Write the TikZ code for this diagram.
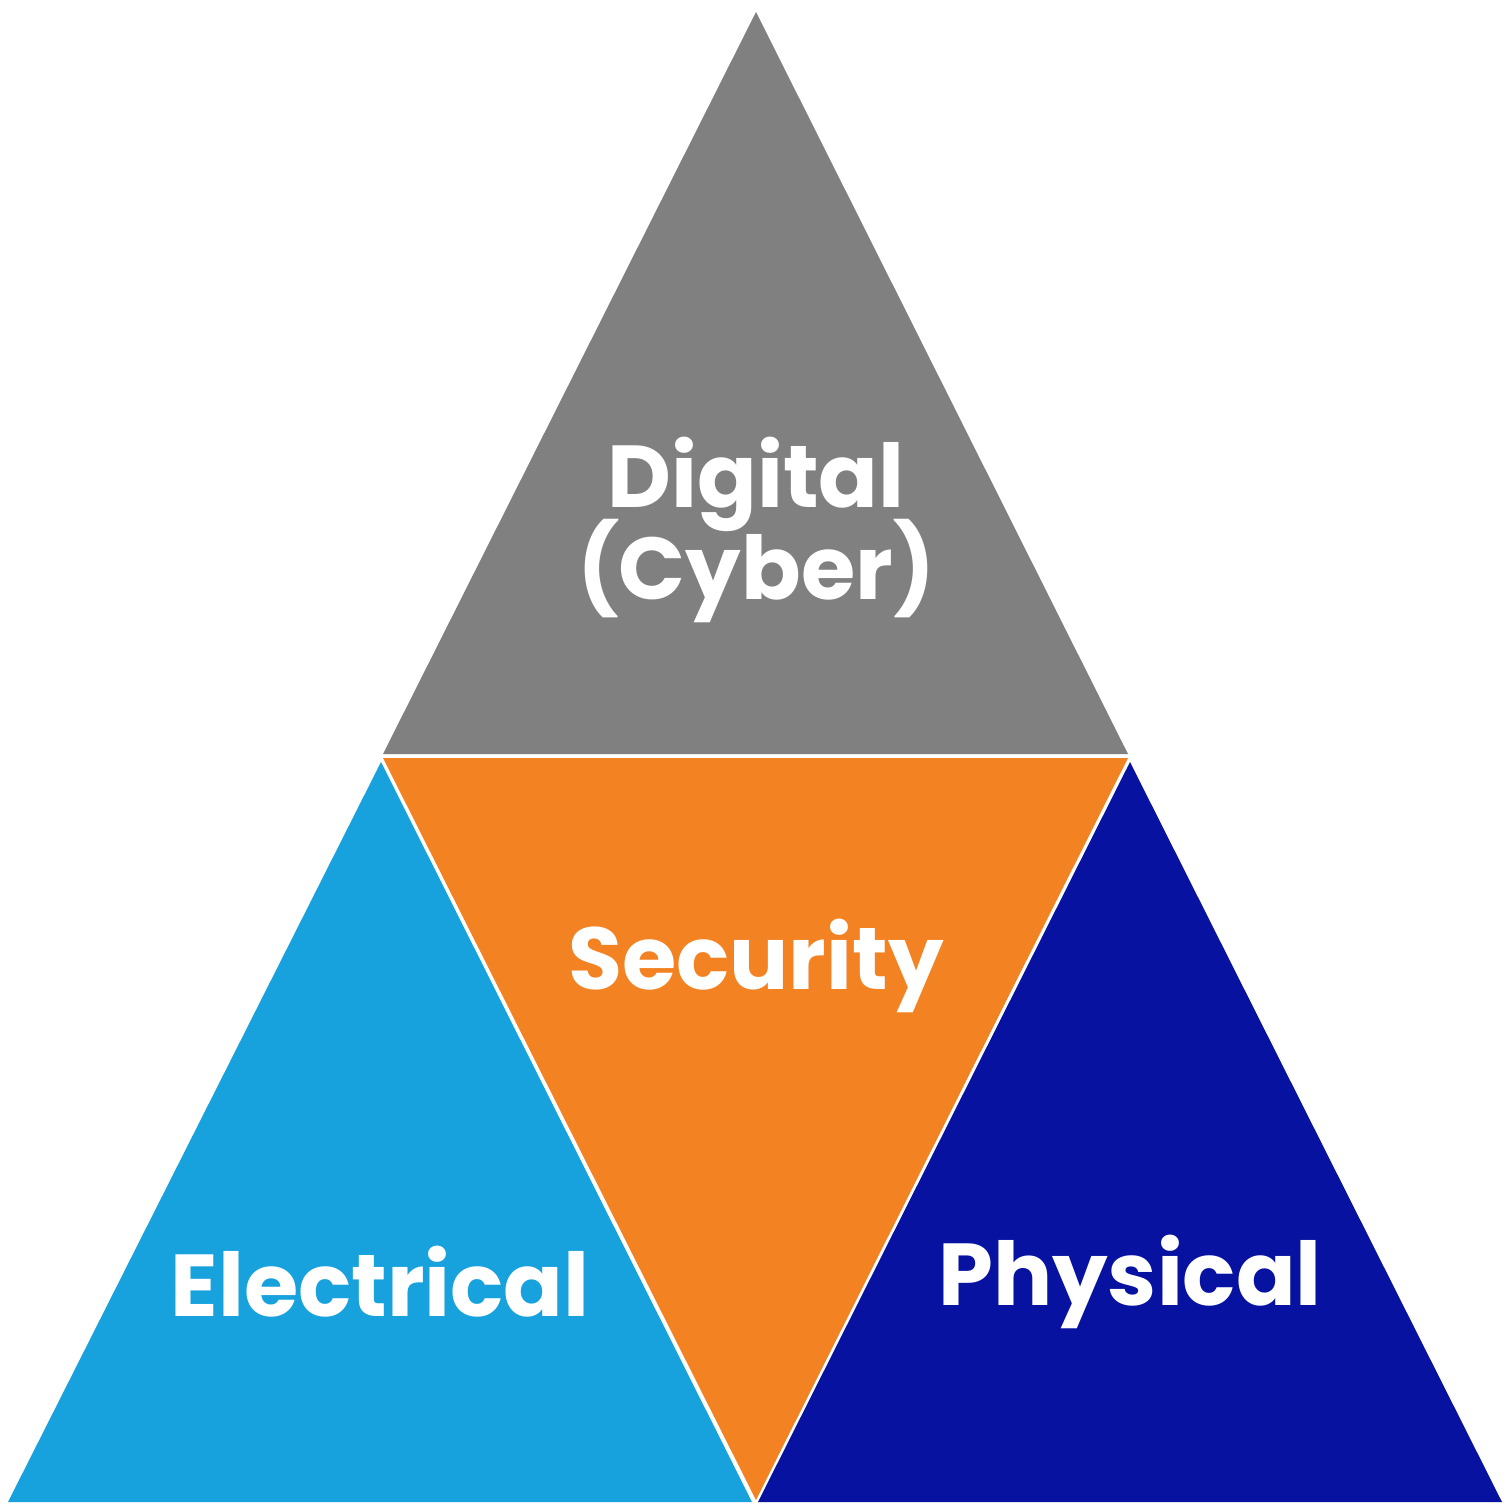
\documentclass[tikz,border=0pt]{standalone}
\usepackage{fontspec}
\setmainfont{Poppins}
\usetikzlibrary{positioning}
\definecolor{digitalgray}{HTML}{808080}
\definecolor{securityorange}{HTML}{F28222}
\definecolor{electricblue}{HTML}{17A2DD}
\definecolor{physicalnavy}{HTML}{0712A0}
\tikzset{
  label text/.style={text=white, font=\fontsize{25}{30}\selectfont\bfseries, align=center}
}
\begin{document}
\begin{tikzpicture}[x=0.01cm, y=-0.01cm]
        \useasboundingbox (0,0) rectangle (1512,1512);
        \fill [digitalgray] (756,12) -- (1128,754) -- (383,754) -- cycle;
        \fill [securityorange] (383,758) -- (1128,758) -- (756,1500) -- cycle;
        \fill [electricblue] (381,762) -- (752,1502) -- (8,1502) -- cycle;
        \fill [physicalnavy] (1130,762) -- (1502,1502) -- (758,1502) -- cycle;

        \node [label text] (digital) at (756,530) {Digital\\[-4pt](Cyber)};
        \node [label text] (security) at (756,966) {Security};
        \node [label text] (electrical) at (380,1282) {Electrical};
        \node [label text] (physical) at (1130,1282) {Physical};
    \end{tikzpicture}
\end{document}
